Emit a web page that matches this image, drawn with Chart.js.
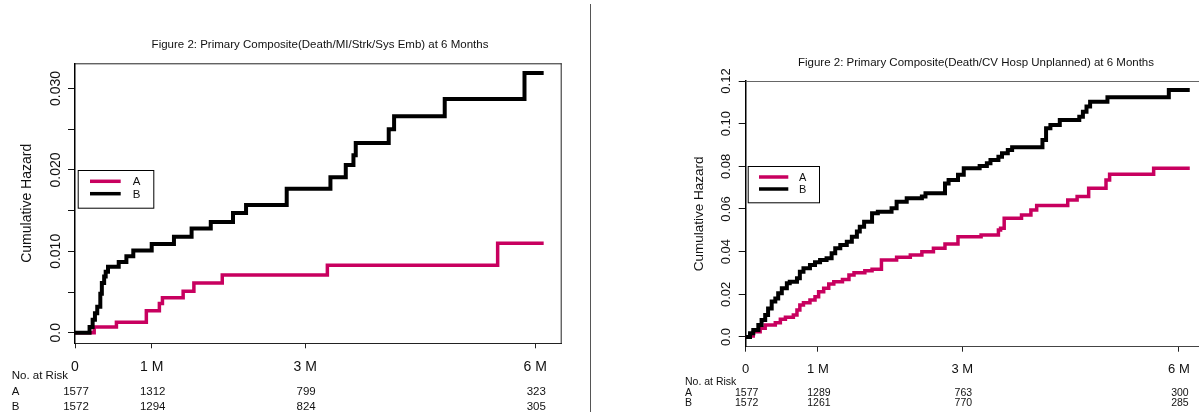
<!DOCTYPE html>
<html>
<head>
<meta charset="utf-8">
<script src="https://cdn.jsdelivr.net/npm/chart.js@4/dist/chart.umd.min.js"></script>
<style>
  html, body { margin: 0; padding: 0; background: #fff; overflow: hidden; }
  body { width: 1199px; height: 412px; position: relative; }
  #leftBox { position: absolute; left: 0; top: 0; width: 590px; height: 412px; }
  #rightBox { position: absolute; left: 595px; top: 0; width: 611px; height: 412px; }
  #divider { position: absolute; left: 590px; top: 4px; width: 1px; height: 408px; background: #555; }
</style>
</head>
<body>
<div id="leftBox"><canvas id="leftChart" width="590" height="412"></canvas></div>
<div id="divider"></div>
<div id="rightBox"><canvas id="rightChart" width="611" height="412"></canvas></div>
<script>
// x axis (months) and its labels
var monthTicks = [0, 1, 3, 6];
var xTickLabels = ["0", "1 M", "3 M", "6 M"];
var groupNames = ["A", "B"];

// left panel: Death/MI/Strk/Sys Emb
var leftTitle = "Figure 2: Primary Composite(Death/MI/Strk/Sys Emb) at 6 Months";
var leftTimesA = [0, 0.25, 0.54, 0.93, 1.10, 1.14, 1.41, 1.55, 1.92, 3.29, 5.51, 6.11];
var leftHazA = [0, 0.0007, 0.0013, 0.0027, 0.0036, 0.0043, 0.0051, 0.0061, 0.0071, 0.0083, 0.0110, 0.0110];
var leftTimesB = [0, 0.19, 0.23, 0.26, 0.29, 0.33, 0.35, 0.38, 0.40, 0.43, 0.57, 0.67, 0.76, 1.00, 1.29,
  1.52, 1.77, 2.06, 2.23, 2.76, 3.33, 3.53, 3.63, 3.66, 4.09, 4.16, 4.82, 5.86, 6.11];
var leftHazB = [0, 0.0007, 0.0016, 0.0024, 0.0032, 0.0048, 0.0061, 0.0069, 0.0075, 0.0081, 0.0087, 0.0094,
  0.0101, 0.0109, 0.0118, 0.0128, 0.0136, 0.0147, 0.0157, 0.0177, 0.0191, 0.0206, 0.0218, 0.0233, 0.0250,
  0.0266, 0.0287, 0.0319, 0.0319];
var leftRiskA = [1577, 1312, 799, 323];
var leftRiskB = [1572, 1294, 824, 305];

// right panel: Death/CV Hosp Unplanned
var rightTitle = "Figure 2: Primary Composite(Death/CV Hosp Unplanned) at 6 Months";
var rightTimesA = [0, 0.06, 0.105, 0.2, 0.27, 0.41, 0.48, 0.55, 0.66, 0.71, 0.75, 0.80, 0.89, 0.96, 1.01,
  1.08, 1.15, 1.22, 1.34, 1.43, 1.50, 1.65, 1.75, 1.88, 2.09, 2.28, 2.44, 2.60, 2.76, 2.94, 3.26, 3.50,
  3.53, 3.58, 3.82, 3.95, 4.03, 4.46, 4.59, 4.75, 4.99, 5.04, 5.65, 6.15];
var rightHazA = [0, 0.0005, 0.0025, 0.0041, 0.0056, 0.0067, 0.0083, 0.0092, 0.0103, 0.0127, 0.015, 0.0161,
  0.0173, 0.0189, 0.0212, 0.0228, 0.0248, 0.0259, 0.027, 0.0291, 0.0301, 0.031, 0.0318, 0.0361, 0.0374,
  0.0384, 0.040, 0.0416, 0.0436, 0.047, 0.0478, 0.0502, 0.051, 0.0557, 0.0572, 0.0595, 0.0616, 0.0642,
  0.0658, 0.0697, 0.0736, 0.0763, 0.0791, 0.0791];
var rightTimesB = [0, 0.06, 0.105, 0.175, 0.22, 0.27, 0.31, 0.36, 0.41, 0.45, 0.50, 0.57, 0.61, 0.71, 0.75,
  0.80, 0.89, 0.96, 1.03, 1.12, 1.19, 1.24, 1.31, 1.40, 1.47, 1.54, 1.58, 1.64, 1.75, 1.83, 2.02, 2.09,
  2.23, 2.44, 2.49, 2.76, 2.81, 2.94, 3.02, 3.24, 3.34, 3.39, 3.50, 3.55, 3.63, 3.69, 4.11, 4.16, 4.22,
  4.35, 4.62, 4.67, 4.72, 4.77, 5.01, 5.86, 6.15];
var rightHazB = [0, 0.0017, 0.0033, 0.0056, 0.008, 0.0103, 0.0134, 0.0166, 0.0181, 0.0205, 0.0228, 0.0252,
  0.0259, 0.0275, 0.0306, 0.0322, 0.0338, 0.035, 0.0361, 0.0369, 0.0392, 0.0416, 0.0431, 0.0447, 0.047,
  0.0494, 0.0517, 0.054, 0.058, 0.0587, 0.0603, 0.0634, 0.065, 0.0658, 0.0674, 0.072, 0.0736, 0.076,
  0.0791, 0.0802, 0.0814, 0.083, 0.0845, 0.0861, 0.0877, 0.0889, 0.0924, 0.0978, 0.0994, 0.1017, 0.1033,
  0.1056, 0.108, 0.1103, 0.1124, 0.1158, 0.1158];
var rightRiskA = [1577, 1289, 763, 300];
var rightRiskB = [1572, 1261, 770, 285];

var colorA = "#c8005f";
var colorB = "#000000";
var fontFamily = '"Liberation Sans", Arial, Helvetica, sans-serif';

function toPoints(times, values) {
  return times.map((t, i) => ({ x: t, y: values[i] }));
}

// draws the R-style bits: frame, rotated y labels, titles, legend, risk table
var decorPlugin = {
  id: "decor",
  afterDraw: function (chart, args, o) {
    var ctx = chart.ctx;
    var area = chart.chartArea;
    var xs = chart.scales.x;
    var ys = chart.scales.y;
    ctx.save();

    // top and right frame
    ctx.lineWidth = 1;
    ctx.strokeStyle = o.topColor;
    ctx.beginPath();
    ctx.moveTo(area.left, area.top + 0.5);
    ctx.lineTo(area.right, area.top + 0.5);
    ctx.stroke();
    if (o.drawRight) {
      ctx.beginPath();
      ctx.moveTo(area.right - 0.5, area.top);
      ctx.lineTo(area.right - 0.5, area.bottom);
      ctx.stroke();
    }

    ctx.fillStyle = "#111";
    // y tick labels, rotated
    ctx.font = o.tickSize + "px " + fontFamily;
    ctx.textAlign = "center";
    ctx.textBaseline = "middle";
    ys.ticks.forEach(function (tk) {
      var v = tk.value;
      var r = v / o.labelEvery;
      if (Math.abs(r - Math.round(r)) > 1e-6) return;
      var txt = Math.abs(v) < 1e-9 ? "0.0" : v.toFixed(o.decimals);
      ctx.save();
      ctx.translate(o.yLabelX, ys.getPixelForValue(v));
      ctx.rotate(-Math.PI / 2);
      ctx.fillText(txt, 0, 0);
      ctx.restore();
    });

    // y axis title
    ctx.save();
    ctx.font = o.axisTitleSize + "px " + fontFamily;
    ctx.translate(o.yTitleX, (area.top + area.bottom) / 2);
    ctx.rotate(-Math.PI / 2);
    ctx.fillText("Cumulative Hazard", 0, 0);
    ctx.restore();

    // main title
    ctx.font = o.titleSize + "px " + fontFamily;
    ctx.fillText(o.title, o.titleX, o.titleY);

    // legend
    var lg = o.legend;
    ctx.fillStyle = "#fff";
    ctx.fillRect(lg.box[0], lg.box[1], lg.box[2] - lg.box[0], lg.box[3] - lg.box[1]);
    ctx.strokeStyle = "#000";
    ctx.lineWidth = 1;
    ctx.strokeRect(lg.box[0] + 0.5, lg.box[1] + 0.5, lg.box[2] - lg.box[0], lg.box[3] - lg.box[1]);
    ctx.font = lg.size + "px " + fontFamily;
    [colorA, colorB].forEach(function (c, i) {
      ctx.strokeStyle = c;
      ctx.lineWidth = 3.5;
      ctx.beginPath();
      ctx.moveTo(lg.lineX[0], lg.lineY[i]);
      ctx.lineTo(lg.lineX[1], lg.lineY[i]);
      ctx.stroke();
      ctx.fillStyle = "#111";
      ctx.fillText(groupNames[i], lg.textX, lg.lineY[i] + 1);
    });

    // number at risk table
    var rk = o.risk;
    ctx.font = rk.size + "px " + fontFamily;
    ctx.textAlign = "left";
    ctx.fillText("No. at Risk", rk.x, rk.headY);
    [o.riskA, o.riskB].forEach(function (row, i) {
      ctx.textAlign = "left";
      ctx.fillText(groupNames[i], rk.x, rk.rowY[i]);
      ctx.textAlign = "center";
      row.forEach(function (n, j) {
        ctx.fillText(String(n), xs.getPixelForValue(monthTicks[j]) + 1, rk.rowY[i]);
      });
    });
    ctx.restore();
  },
};

function makePanel(id, p) {
  var ctx = document.getElementById(id);
  return new Chart(ctx, {
    type: "line",
    data: {
      datasets: [
        {
          label: groupNames[0],
          data: toPoints(p.timesA, p.hazA),
          borderColor: colorA,
          borderWidth: 3.5,
          stepped: "before",
          pointRadius: 0,
          order: 2,
        },
        {
          label: groupNames[1],
          data: toPoints(p.timesB, p.hazB),
          borderColor: colorB,
          borderWidth: 4,
          stepped: "before",
          pointRadius: 0,
          order: 1,
        },
      ],
    },
    options: {
      responsive: false,
      animation: false,
      events: [],
      layout: { padding: { left: 0, top: p.area.top, right: p.canvasW - p.area.right, bottom: 0 } },
      plugins: {
        legend: { display: false },
        title: { display: false },
        tooltip: { enabled: false },
        decor: p.decor,
      },
      scales: {
        x: {
          type: "linear",
          min: 0,
          max: p.xMax,
          afterBuildTicks: function (scale) {
            scale.ticks = monthTicks.map((v) => ({ value: v }));
          },
          afterFit: function (scale) {
            scale.height = 412 - p.area.bottom;
          },
          ticks: {
            autoSkip: false,
            maxRotation: 0,
            padding: p.xPad,
            color: "#111",
            font: { family: fontFamily, size: p.decor.tickSize },
            callback: function (v) {
              return xTickLabels[monthTicks.indexOf(v)];
            },
          },
          grid: { drawOnChartArea: false, tickLength: 5, color: "#222" },
          border: { display: true, color: p.bottomColor, width: 1 },
        },
        y: {
          type: "linear",
          min: p.yMin,
          max: p.yMax,
          afterFit: function (scale) {
            scale.width = p.area.left;
          },
          ticks: { display: false, stepSize: p.yStep, includeBounds: false },
          grid: { drawOnChartArea: false, tickLength: 7, color: "#111" },
          border: { display: true, color: "#000", width: 1.5 },
        },
      },
    },
    plugins: [decorPlugin],
  });
}

makePanel("leftChart", {
  canvasW: 590,
  area: { left: 75, top: 63.3, right: 561.7, bottom: 343.3 },
  timesA: leftTimesA, hazA: leftHazA, timesB: leftTimesB, hazB: leftHazB,
  xMax: 6.345, yMin: -0.0013, yMax: 0.0331, yStep: 0.005, xPad: 10,
  bottomColor: "#222",
  decor: {
    title: leftTitle, titleX: 320, titleY: 44.5, titleSize: 11.5,
    tickSize: 14, axisTitleSize: 14, yLabelX: 56, yTitleX: 27,
    labelEvery: 0.01, decimals: 3, topColor: "#222", drawRight: true,
    riskA: leftRiskA, riskB: leftRiskB,
    legend: { box: [77.7, 170, 153.3, 207.7], lineX: [90, 120.7], lineY: [181.3, 193.7], textX: 136.7, size: 11.5 },
    risk: { x: 11.7, headY: 375.7, rowY: [391.7, 406.7], size: 11.5 },
  },
});

makePanel("rightChart", {
  canvasW: 611,
  area: { left: 150.7, top: 81, right: 611, bottom: 346.7 },
  timesA: rightTimesA, hazA: rightHazA, timesB: rightTimesB, hazB: rightHazB,
  xMax: 6.375, yMin: -0.00455, yMax: 0.12, yStep: 0.02, xPad: 9.5,
  bottomColor: "#444",
  decor: {
    title: rightTitle, titleX: 381, titleY: 62.7, titleSize: 11.5,
    tickSize: 13, axisTitleSize: 13.5, yLabelX: 131.7, yTitleX: 104,
    labelEvery: 0.02, decimals: 2, topColor: "#666", drawRight: false,
    riskA: rightRiskA, riskB: rightRiskB,
    legend: { box: [152.7, 166, 224, 202.3], lineX: [164, 193.3], lineY: [177, 189], textX: 207.7, size: 11 },
    risk: { x: 90, headY: 381.7, rowY: [392.7, 402.7], size: 10.5 },
  },
});
</script>
</body>
</html>
